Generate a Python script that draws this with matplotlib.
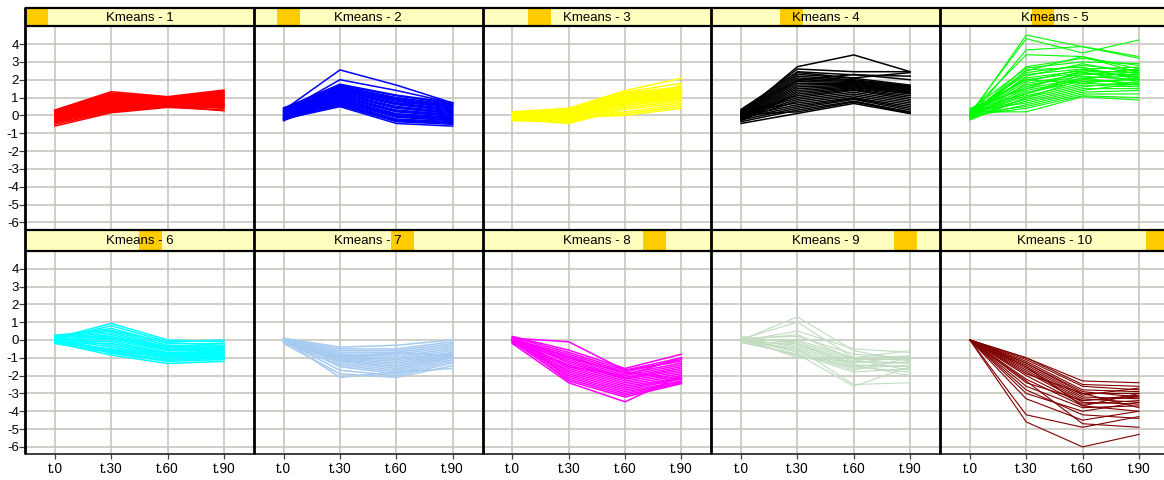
import matplotlib
matplotlib.use('Agg')
import matplotlib.pyplot as plt
from matplotlib.patches import Rectangle

# ---------------- data ----------------
time_labels = ['t.0', 't.30', 't.60', 't.90']
y_ticks = [-6, -5, -4, -3, -2, -1, 0, 1, 2, 3, 4]
cluster_titles = ['Kmeans - %d' % i for i in range(1, 11)]

kmeans_1 = [
    [0.30, 1.33, 1.05, 1.42], [0.28, 1.25, 1.00, 1.38], [0.25, 1.20, 1.02, 1.30],
    [0.22, 1.15, 0.98, 1.25], [0.20, 1.10, 0.95, 1.35], [0.18, 1.05, 1.00, 1.20],
    [0.15, 1.00, 0.92, 1.15], [0.12, 0.95, 0.95, 1.10], [0.10, 0.90, 0.88, 1.05],
    [0.05, 0.85, 0.90, 1.00], [0.02, 0.80, 0.85, 0.95], [0.00, 0.75, 0.82, 1.12],
    [-0.05, 0.70, 0.80, 0.90], [-0.08, 0.65, 0.78, 0.85], [-0.10, 0.60, 0.75, 0.80],
    [-0.15, 0.55, 0.72, 0.75], [-0.18, 0.50, 0.70, 0.70], [-0.20, 0.45, 0.68, 0.65],
    [-0.25, 0.40, 0.65, 0.60], [-0.30, 0.35, 0.62, 0.55], [-0.35, 0.30, 0.58, 0.50],
    [-0.42, 0.25, 0.55, 0.45], [-0.50, 0.20, 0.50, 0.40], [-0.60, 0.15, 0.45, 0.30],
    [0.08, 0.70, 0.52, 0.26], [0.15, 0.95, 0.60, 0.60],
]
kmeans_2 = [
    [0.30, 2.55, 1.70, 0.70], [0.20, 2.00, 1.40, 0.70], [0.40, 1.75, 1.14, 0.71],
    [0.35, 1.70, 1.10, 0.65], [0.30, 1.65, 1.00, 0.60], [0.25, 1.60, 0.95, 0.55],
    [0.20, 1.55, 0.90, 0.50], [0.15, 1.50, 0.85, 0.45], [0.10, 1.45, 0.80, 0.40],
    [0.05, 1.40, 0.70, 0.35], [0.00, 1.35, 0.65, 0.30], [-0.05, 1.30, 0.60, 0.25],
    [-0.10, 1.25, 0.50, 0.20], [-0.15, 1.20, 0.45, 0.15], [-0.20, 1.15, 0.40, 0.10],
    [-0.25, 1.10, 0.30, 0.05], [-0.30, 1.05, 0.25, 0.00], [0.10, 1.00, 0.20, -0.05],
    [0.00, 0.95, 0.10, -0.10], [-0.10, 0.90, 0.05, -0.15], [-0.20, 0.85, 0.00, -0.20],
    [0.20, 0.80, -0.05, -0.25], [-0.05, 0.75, -0.10, -0.30], [-0.15, 0.70, -0.20, -0.35],
    [-0.25, 0.65, -0.25, -0.40], [0.05, 0.60, -0.30, -0.45], [-0.10, 0.55, -0.35, -0.50],
    [-0.20, 0.49, -0.45, -0.60], [0.43, 1.50, 0.70, 0.60],
]
kmeans_3 = [
    [0.20, 0.40, 1.39, 2.08], [0.15, 0.35, 1.30, 1.80], [0.10, 0.30, 1.25, 1.60],
    [0.18, 0.25, 1.20, 1.50], [0.05, 0.20, 1.15, 1.45], [0.00, 0.15, 1.10, 1.40],
    [0.12, 0.10, 1.05, 1.35], [-0.05, 0.05, 1.00, 1.30], [-0.10, 0.00, 0.95, 1.25],
    [0.08, -0.05, 0.90, 1.20], [-0.15, -0.10, 0.85, 1.15], [-0.20, -0.15, 0.80, 1.10],
    [0.02, -0.20, 0.75, 1.05], [-0.25, -0.25, 0.70, 1.00], [-0.08, -0.30, 0.65, 0.95],
    [-0.30, -0.35, 0.55, 0.90], [-0.12, -0.40, 0.45, 0.80], [-0.22, -0.45, 0.35, 0.70],
    [-0.02, -0.30, 0.20, 0.60], [-0.18, -0.20, 0.10, 0.50], [0.05, -0.10, 0.00, 0.40],
    [0.10, 0.20, 0.60, 1.70],
]
kmeans_4 = [
    [0.10, 2.73, 3.39, 2.45], [0.20, 2.60, 2.45, 2.45], [0.30, 2.45, 2.27, 2.20],
    [0.34, 2.40, 2.10, 2.40], [0.25, 2.30, 2.08, 1.70], [0.20, 2.20, 2.00, 1.65],
    [0.15, 2.10, 1.95, 1.60], [0.10, 2.00, 1.90, 1.55], [0.05, 1.90, 1.85, 1.50],
    [0.00, 1.80, 1.80, 1.45], [-0.05, 1.70, 1.75, 1.40], [-0.10, 1.60, 1.70, 1.35],
    [-0.15, 1.50, 1.65, 1.30], [-0.20, 1.40, 1.60, 1.25], [-0.25, 1.30, 1.55, 1.20],
    [-0.30, 1.20, 1.50, 1.10], [0.10, 1.10, 1.45, 1.00], [0.00, 1.00, 1.40, 0.90],
    [-0.10, 0.90, 1.30, 0.80], [-0.20, 0.80, 1.20, 0.70], [0.15, 0.70, 1.10, 0.60],
    [-0.05, 0.60, 1.00, 0.50], [-0.15, 0.50, 0.95, 0.40], [-0.25, 0.40, 0.90, 0.30],
    [-0.35, 0.30, 0.80, 0.20], [-0.45, 0.11, 0.67, 0.10], [0.05, 0.20, 0.75, 0.15],
    [0.20, 1.95, 2.30, 2.00],
]
kmeans_5 = [
    [0.00, 4.50, 3.85, 3.20], [0.10, 4.30, 3.50, 4.23], [-0.10, 3.67, 3.86, 3.30],
    [0.20, 3.40, 3.30, 2.40], [0.00, 2.73, 3.20, 2.80], [0.30, 2.65, 3.00, 2.90],
    [-0.20, 2.55, 2.70, 2.00], [0.10, 2.50, 3.30, 2.60], [0.00, 2.40, 2.80, 2.50],
    [0.20, 2.30, 2.60, 2.70], [-0.10, 2.20, 2.90, 2.30], [0.10, 2.10, 2.50, 2.40],
    [0.30, 2.00, 2.40, 2.20], [0.00, 1.90, 2.60, 2.10], [-0.20, 1.80, 2.30, 2.30],
    [0.10, 1.70, 2.20, 2.00], [0.20, 1.60, 2.40, 1.90], [0.00, 1.50, 2.10, 2.20],
    [-0.10, 1.40, 2.00, 1.80], [0.10, 1.30, 1.90, 2.00], [0.30, 1.20, 2.10, 1.70],
    [0.00, 1.10, 1.80, 2.10], [-0.20, 1.00, 1.70, 1.60], [0.10, 0.90, 1.60, 1.90],
    [0.00, 0.80, 1.50, 1.50], [0.20, 0.70, 1.40, 1.80], [-0.10, 0.60, 1.30, 1.40],
    [0.10, 0.50, 1.20, 1.20], [0.00, 0.40, 1.10, 1.00], [0.20, 0.20, 1.05, 0.86],
    [0.40, 1.50, 2.50, 2.40], [-0.26, 1.00, 2.00, 2.50], [0.10, 2.00, 1.80, 1.70],
    [0.00, 1.20, 2.30, 2.60],
]
kmeans_6 = [
    [0.10, 0.93, 0.00, -0.10], [0.05, 0.80, -0.10, 0.00], [0.20, 0.65, -0.20, -0.20],
    [0.27, 0.55, -0.15, -0.30], [0.15, 0.50, -0.30, -0.35], [0.10, 0.40, -0.40, -0.40],
    [0.00, 0.30, -0.45, -0.50], [0.20, 0.20, -0.50, -0.55], [-0.05, 0.10, -0.55, -0.60],
    [0.10, 0.00, -0.60, -0.65], [0.00, -0.10, -0.70, -0.70], [-0.10, -0.20, -0.75, -0.75],
    [0.15, -0.30, -0.80, -0.80], [0.05, -0.40, -0.85, -0.85], [-0.15, -0.50, -0.90, -0.90],
    [0.00, -0.55, -0.95, -0.95], [-0.10, -0.60, -1.00, -1.00], [-0.20, -0.70, -1.10, -1.05],
    [0.05, -0.75, -1.20, -1.10], [-0.15, -0.85, -1.32, -1.20], [0.10, -0.65, -1.15, -0.95],
    [0.25, 0.10, -0.35, -0.45],
]
kmeans_7 = [
    [0.10, -0.40, -0.30, 0.00], [0.05, -0.50, -0.50, -0.10], [0.00, -0.60, -0.60, -0.20],
    [-0.05, -0.70, -0.70, -0.30], [0.00, -0.80, -0.80, -0.40], [0.10, -0.85, -0.90, -0.50],
    [-0.10, -0.90, -1.00, -0.60], [0.00, -0.95, -1.10, -0.70], [0.05, -1.00, -1.20, -0.75],
    [-0.05, -1.05, -1.30, -0.80], [0.00, -1.10, -1.40, -0.85], [-0.10, -1.15, -1.50, -0.90],
    [0.05, -1.20, -1.60, -0.95], [0.00, -1.30, -1.70, -1.00], [-0.15, -1.40, -1.80, -1.10],
    [0.00, -1.50, -1.90, -1.20], [-0.05, -1.70, -2.00, -1.30], [-0.20, -1.90, -2.10, -1.45],
    [0.00, -2.10, -1.80, -1.60], [0.05, -1.00, -0.70, -0.90],
]
kmeans_8 = [
    [0.10, -0.10, -1.70, -1.20], [0.20, -0.57, -1.60, -0.80], [0.15, -0.70, -1.70, -1.00],
    [0.05, -0.80, -1.80, -1.10], [0.00, -0.90, -1.90, -1.30], [0.10, -1.00, -2.00, -1.40],
    [-0.05, -1.10, -2.10, -1.50], [0.00, -1.20, -2.15, -1.60], [0.10, -1.30, -2.20, -1.70],
    [-0.10, -1.40, -2.30, -1.80], [0.05, -1.50, -2.40, -1.90], [0.00, -1.60, -2.50, -2.00],
    [-0.15, -1.70, -2.60, -2.10], [0.10, -1.80, -2.70, -2.15], [0.00, -1.90, -2.80, -2.20],
    [-0.05, -2.00, -2.90, -2.30], [0.05, -2.10, -3.00, -2.35], [-0.10, -2.20, -3.10, -2.40],
    [0.00, -2.30, -3.20, -2.45], [-0.20, -2.40, -3.47, -2.00], [0.10, -1.50, -2.00, -1.00],
    [0.00, -1.00, -1.80, -2.20],
]
kmeans_9 = [
    [0.00, 1.30, -0.60, -1.20], [0.05, 1.00, -1.00, -0.90], [-0.05, 0.50, -0.50, -0.70],
    [0.10, 0.20, -0.80, -1.00], [0.00, 0.00, -1.00, -0.60], [0.05, -0.10, -1.10, -1.10],
    [-0.10, -0.20, -1.20, -1.30], [0.00, -0.30, -1.30, -0.90], [0.10, -0.40, -1.40, -1.50],
    [-0.05, -0.50, -1.50, -1.20], [0.00, -0.60, -1.60, -1.40], [0.05, -0.70, -1.70, -1.00],
    [-0.10, -0.80, -1.80, -1.60], [0.00, -0.90, -1.50, -1.80], [0.10, -1.00, -1.20, -1.30],
    [0.00, -0.50, -2.50, -2.40], [-0.15, -0.80, -2.60, -1.50], [0.20, -0.20, -1.40, -2.00],
    [0.00, 0.30, -1.10, -1.70],
]
kmeans_10 = [
    [0.0, -1.0, -2.3, -2.4], [0.0, -1.0, -2.5, -2.6], [0.0, -1.1, -2.6, -2.8],
    [0.0, -1.2, -2.8, -2.9], [0.0, -1.3, -3.0, -3.0], [0.0, -1.3, -2.9, -3.2],
    [0.0, -1.4, -3.1, -2.7], [0.0, -1.5, -3.2, -3.3], [0.0, -1.6, -3.3, -3.5],
    [0.0, -1.7, -3.4, -3.1], [0.0, -1.8, -3.5, -3.6], [0.0, -1.9, -3.0, -3.8],
    [0.0, -2.0, -3.6, -3.4], [0.0, -2.2, -3.7, -4.0], [0.0, -2.4, -3.4, -3.2],
    [0.0, -2.6, -3.8, -3.7], [0.0, -2.8, -4.2, -4.4], [0.0, -3.0, -4.0, -3.5],
    [0.0, -3.3, -4.5, -4.0], [0.0, -4.2, -4.9, -4.3], [0.0, -4.6, -6.0, -5.3],
    [0.0, -2.3, -4.7, -4.9], [0.0, -1.5, -3.7, -3.0],
]

clusters = [kmeans_1, kmeans_2, kmeans_3, kmeans_4, kmeans_5,
            kmeans_6, kmeans_7, kmeans_8, kmeans_9, kmeans_10]
cluster_colors = ['#FF0000', '#0000FF', '#FFFF00', '#000000', '#00FF00',
                  '#00FFFF', '#A6CAF0', '#FF00FF', '#C0DCC0', '#800000']

# ---------------- layout ----------------
W, H = 1164, 480
fig = plt.figure(figsize=(W / 100, H / 100), dpi=100)
fig.patch.set_facecolor('white')

FONT = 'Liberation Sans'
col_left = 25.0
col_w = 228.75
rows = [
    dict(title_top=8.0, plot_top=26.2, plot_bot=229.6),
    dict(title_top=230.3, plot_top=250.9, plot_bot=454.0),
]
grid_color = '#c4c1ba'
x_pos = list(range(len(time_labels)))
dense = {0, 1, 2, 3, 5, 6, 7}

for idx, data in enumerate(clusters):
    r, c = divmod(idx, 5)
    rr = rows[r]
    L = col_left + c * col_w
    ax = fig.add_axes([L / W, 1 - rr['plot_bot'] / H, col_w / W,
                       (rr['plot_bot'] - rr['plot_top']) / H])
    lw = 1.1 if idx in dense else 0.8
    for series in data:
        ax.plot(x_pos, series, color=cluster_colors[idx], lw=lw,
                solid_joinstyle='miter', zorder=3)
    ax.set_xlim(-0.53, 3.53)
    ax.set_ylim(-6.4, 5.0)
    ax.set_xticks(x_pos)
    ax.set_yticks(y_ticks)
    ax.grid(True, color=grid_color, lw=1.1, zorder=1)
    for s in ax.spines.values():
        s.set_visible(False)
    if c == 0:
        ax.set_yticklabels([str(v) for v in y_ticks], fontsize=9.5, family=FONT)
        ax.tick_params(axis='y', length=4, width=0.9, color='#404040', pad=0.5)
    else:
        ax.set_yticklabels([])
        ax.tick_params(axis='y', length=0)
    if r == 1:
        ax.set_xticklabels(time_labels, fontsize=9.8, family=FONT)
        ax.tick_params(axis='x', length=3.5, width=0.9, color='#404040', pad=2.5)
    else:
        ax.set_xticklabels([])
        ax.tick_params(axis='x', length=0)

# overlay for title bars and borders
ov = fig.add_axes([0, 0, 1, 1], zorder=10)
ov.set_xlim(0, W)
ov.set_ylim(H, 0)
ov.axis('off')
ov.patch.set_visible(False)

for idx in range(10):
    r, c = divmod(idx, 5)
    rr = rows[r]
    L = col_left + c * col_w
    th = rr['plot_top'] - rr['title_top']
    ov.add_patch(Rectangle((L, rr['title_top']), col_w, th,
                           facecolor='#FFFFC0', edgecolor='none', zorder=1))
    ov.add_patch(Rectangle((L + idx * col_w / 10, rr['title_top']), col_w / 10, th,
                           facecolor='#FFCC00', edgecolor='none', zorder=2))
    ov.text(L + col_w / 2, rr['title_top'] + th / 2 + 0.5, cluster_titles[idx],
            ha='center', va='center', fontsize=9.5, family=FONT, zorder=3)

# horizontal borders
for y in [rows[0]['title_top'], rows[0]['plot_top'], rows[1]['title_top'], rows[1]['plot_top']]:
    ov.plot([col_left, W + 10], [y, y], color='black', lw=1.6, zorder=5,
            solid_capstyle='butt')
ov.plot([col_left, W + 10], [rows[1]['plot_bot']] * 2, color='#303030', lw=1.3, zorder=5,
        solid_capstyle='butt')
# vertical separators
for i in range(6):
    x = col_left + i * col_w
    ov.plot([x, x], [rows[0]['title_top'] - 0.8, rows[1]['plot_bot']], color='black',
            lw=2.0, zorder=6, solid_capstyle='butt')

fig.savefig('out.png', dpi=100, facecolor='white')
